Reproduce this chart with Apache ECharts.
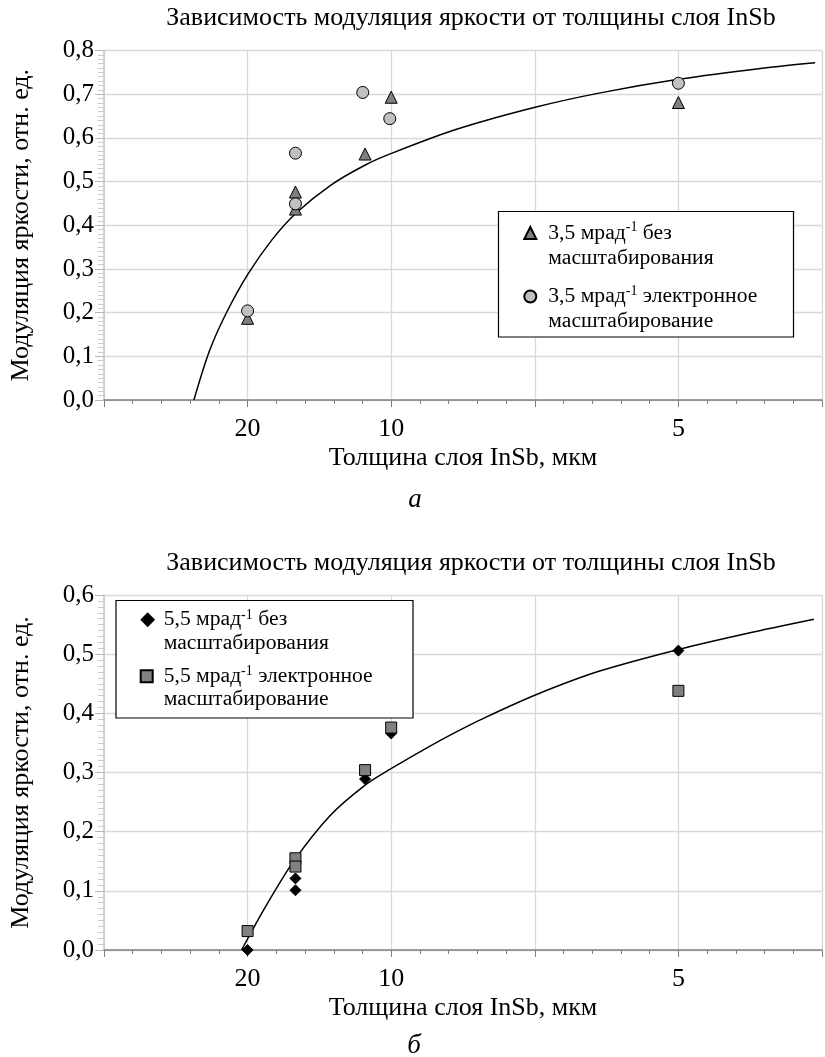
<!DOCTYPE html>
<html>
<head>
<meta charset="utf-8">
<script src="https://cdn.jsdelivr.net/npm/echarts@6/dist/echarts.min.js"></script>
<style>
  html, body { margin: 0; padding: 0; background: #fff; }
  #chart { width: 825px; height: 1057px; }
</style>
</head>
<body>
<div id="chart"></div>
<script>
// по оси X откладывается 1/толщина, подписи - сама толщина (мкм)
var xLabelThickness = [20, 10, 5];

// рис. а
var thickTriA = [20, 15, 15, 11, 10, 5];
var valTriA = [0.187, 0.476, 0.437, 0.563, 0.693, 0.681];
var thickCircA = [20, 15, 15, 11.1, 10.05, 5];
var valCircA = [0.204, 0.565, 0.449, 0.704, 0.644, 0.725];
// линия тренда (x = 1/толщина)
var trendAx = [0.0313, 0.0367, 0.0425, 0.05, 0.0584, 0.0669, 0.079, 0.091, 0.1003, 0.1225, 0.1501, 0.1728, 0.2, 0.2299, 0.2476];
var trendAy = [0, 0.112, 0.198, 0.287, 0.366, 0.428, 0.492, 0.538, 0.565, 0.619, 0.67, 0.703, 0.734, 0.76, 0.772];

// рис. б
var thickB = [20, 15, 15, 11, 10, 5];
var valDiamB = [0.0, 0.121, 0.101, 0.289, 0.366, 0.506];
var valSqB = [0.032, 0.155, 0.141, 0.304, 0.376, 0.438];
var trendBx = [0.0479, 0.0562, 0.0659, 0.0786, 0.0906, 0.0998, 0.1129, 0.122, 0.1323, 0.1502, 0.1723, 0.2, 0.2238, 0.2472];
var trendBy = [0, 0.073, 0.149, 0.2265, 0.2775, 0.306, 0.343, 0.367, 0.392, 0.431, 0.471, 0.508, 0.535, 0.559];

var names = [
  '3,5 мрад-1 без масштабирования',
  '3,5 мрад-1 электронное масштабирование',
  '5,5 мрад-1 без масштабирования',
  '5,5 мрад-1 электронное масштабирование'
];

var FONT = 'Liberation Serif';

function inv(th, vals) {
  return th.map(function (t, i) { return [1 / t, vals[i]]; });
}
function zip(xs, ys) {
  return xs.map(function (x, i) { return [x, ys[i]]; });
}

function xAxisOf(grid) {
  return {
    type: 'value', gridIndex: grid, min: 0, max: 0.25, interval: 0.05,
    name: 'Толщина слоя InSb, мкм', nameLocation: 'middle', nameGap: 45,
    nameTextStyle: { fontFamily: FONT, fontSize: 26, color: '#000' },
    axisLine: { show: true, lineStyle: { color: '#808080', width: 1.5 } },
    axisTick: { show: true, length: 7, lineStyle: { color: '#808080' } },
    minorTick: { show: true, splitNumber: 5, length: 4, lineStyle: { color: '#808080' } },
    splitLine: { show: true, lineStyle: { color: '#d9d9d9', width: 1.3 } },
    axisLabel: {
      margin: 16, fontFamily: FONT, fontSize: 26, color: '#000',
      formatter: function (v) {
        for (var i = 0; i < xLabelThickness.length; i++) {
          if (Math.abs(1 / xLabelThickness[i] - v) < 1e-9) return String(xLabelThickness[i]);
        }
        return '';
      }
    }
  };
}

function yAxisOf(grid, max) {
  return {
    type: 'value', gridIndex: grid, min: 0, max: max, interval: 0.1,
    name: 'Модуляция яркости, отн. ед.', nameLocation: 'middle', nameGap: 70,
    nameTextStyle: { fontFamily: FONT, fontSize: 26, color: '#000' },
    axisLine: { show: true, lineStyle: { color: '#c8c8c8', width: 1.5 } },
    axisTick: { show: true, length: 9, lineStyle: { color: '#b8b8b8' } },
    minorTick: { show: true, splitNumber: 10, length: 6, lineStyle: { color: '#cccccc' } },
    splitLine: { show: true, lineStyle: { color: '#d9d9d9', width: 1.3 } },
    axisLabel: {
      margin: 10, fontFamily: FONT, fontSize: 25, color: '#000',
      formatter: function (v) { return v.toFixed(1).replace('.', ','); }
    }
  };
}

// подпись в две строки, значок на уровне первой строки
function legendOf(name, left, top, lh, padLeft) {
  return {
    data: [name], left: left, top: top, padding: 0,
    itemWidth: 12, itemHeight: 12,
    selectedMode: false,
    formatter: function (n) {
      return n.replace('-1', '{sup|-1}').replace(' масштаб', '\nмасштаб');
    },
    textStyle: {
      fontFamily: FONT, fontSize: 21.6, color: '#000', lineHeight: lh,
      padding: [lh, 0, 0, padLeft],
      rich: { sup: { fontFamily: FONT, fontSize: 14, lineHeight: 14, verticalAlign: 'top' } }
    }
  };
}

function trendSeries(xi, data) {
  return {
    type: 'line', xAxisIndex: xi, yAxisIndex: xi, data: data,
    showSymbol: false, smooth: 0.3, silent: true,
    lineStyle: { color: '#000', width: 1.5 }, z: 1
  };
}

function scatter(name, xi, data, symbol, size, fill) {
  return {
    name: name, type: 'scatter', xAxisIndex: xi, yAxisIndex: xi, data: data,
    symbol: symbol, symbolSize: size,
    itemStyle: { color: fill, borderColor: '#000', borderWidth: 1, opacity: 1 }
  };
}

var titleText = 'Зависимость модуляция яркости от толщины слоя InSb';
var titleStyle = { fontFamily: FONT, fontSize: 26, fontWeight: 'normal', color: '#000' };

var chart = echarts.init(document.getElementById('chart'));
chart.setOption({
  animation: false,
  backgroundColor: '#fff',
  title: [
    { text: titleText, left: 466, top: 0, textAlign: 'center', textStyle: titleStyle },
    { text: titleText, left: 466, top: 545, textAlign: 'center', textStyle: titleStyle }
  ],
  grid: [
    { left: 103, right: -7, top: 50.5, height: 349.5 },
    { left: 104, right: -7, top: 595, height: 355 }
  ],
  xAxis: [xAxisOf(0), xAxisOf(1)],
  yAxis: [yAxisOf(0, 0.8), yAxisOf(1, 0.6)],
  legend: [
    legendOf(names[0], 523.3, 195.5, 25, 7),
    legendOf(names[1], 523.3, 259, 25, 7),
    legendOf(names[2], 140.7, 584.5, 23.5, 5),
    legendOf(names[3], 139.7, 641, 23.5, 6)
  ],
  graphic: [
    { type: 'rect', z: 3, shape: { x: 498.5, y: 211.5, width: 295, height: 125.5 },
      style: { fill: '#fff', stroke: '#000', lineWidth: 1.2 } },
    { type: 'rect', z: 3, shape: { x: 116, y: 600.5, width: 297, height: 117.5 },
      style: { fill: '#fff', stroke: '#000', lineWidth: 1.2 } },
    { type: 'text', x: 415, y: 500, z: 3,
      style: { text: 'а', fontFamily: FONT, fontStyle: 'italic', fontSize: 27, fill: '#000', align: 'center', verticalAlign: 'middle' } },
    { type: 'text', x: 414, y: 1046, z: 3,
      style: { text: 'б', fontFamily: FONT, fontStyle: 'italic', fontSize: 27, fill: '#000', align: 'center', verticalAlign: 'middle' } }
  ],
  series: [
    trendSeries(0, zip(trendAx, trendAy)),
    scatter(names[0], 0, inv(thickTriA, valTriA), 'triangle', 12, '#7f7f7f'),
    scatter(names[1], 0, inv(thickCircA, valCircA), 'circle', 12, '#c0c0c0'),
    trendSeries(1, zip(trendBx, trendBy)),
    scatter(names[2], 1, inv(thickB, valDiamB), 'diamond', 11, '#000'),
    scatter(names[3], 1, inv(thickB, valSqB), 'rect', 11, '#808080')
  ]
});
</script>
</body>
</html>
